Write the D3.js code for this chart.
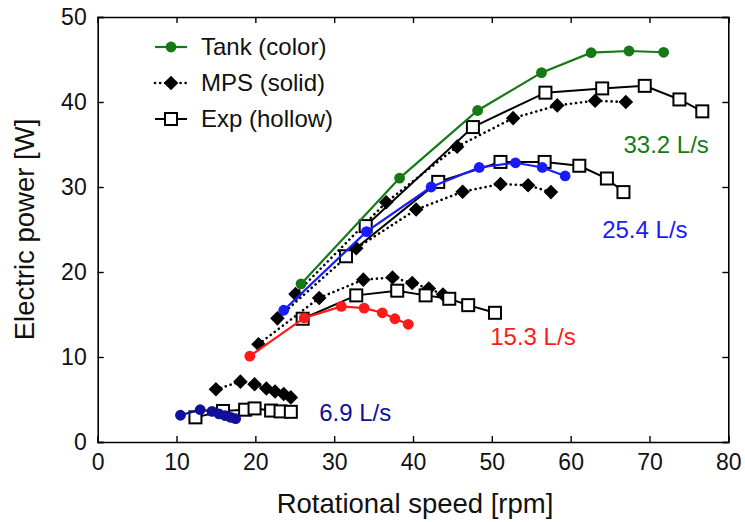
<!DOCTYPE html>
<html><head><meta charset="utf-8">
<script src="https://cdn.jsdelivr.net/npm/d3@7"></script>
<style>html,body{margin:0;padding:0;background:#fff}svg{display:block}text{font-family:"Liberation Sans",Arial,sans-serif}</style>
</head><body><div id="chart"></div>
<script>
// ---- data ----
const flows = ["6.9 L/s", "15.3 L/s", "25.4 L/s", "33.2 L/s"];
const flowColors = ["#10109a", "#ff1a1a", "#1a1aff", "#157a15"];
const xTicks = [0, 10, 20, 30, 40, 50, 60, 70, 80];
const yTicks = [0, 10, 20, 30, 40, 50];
const legendLabels = ["Tank (color)", "MPS (solid)", "Exp (hollow)"];

// Tank (colored circles)
const tankRpm69 = [10.5, 13.0, 14.5, 15.4, 16.2, 16.9, 17.5];
const tankPow69 = [3.15, 3.8, 3.6, 3.3, 3.1, 2.9, 2.75];
const tankRpm153 = [19.3, 26.2, 30.9, 33.8, 36.1, 37.7, 39.4];
const tankPow153 = [10.1, 14.6, 15.95, 15.75, 15.2, 14.5, 13.85];
const tankRpm254 = [23.6, 34.1, 42.3, 48.4, 53.0, 56.4, 59.3];
const tankPow254 = [15.5, 24.75, 30.0, 32.3, 32.85, 32.3, 31.3];
const tankRpm332 = [25.8, 38.3, 48.2, 56.3, 62.6, 67.4, 71.8];
const tankPow332 = [18.6, 31.05, 39.0, 43.45, 45.8, 46.0, 45.85];

// MPS (solid diamonds, dotted)
const mpsRpm69 = [15.0, 18.1, 19.9, 21.4, 22.5, 23.6, 24.5];
const mpsPow69 = [6.2, 7.1, 6.8, 6.3, 5.95, 5.65, 5.25];
const mpsRpm153 = [20.4, 28.1, 33.7, 37.4, 39.9, 42.0, 43.8];
const mpsPow153 = [11.5, 16.95, 19.1, 19.35, 18.7, 18.05, 17.35];
const mpsRpm254 = [22.8, 32.8, 40.4, 46.3, 51.1, 54.6, 57.5];
const mpsPow254 = [14.55, 22.8, 27.35, 29.45, 30.35, 30.2, 29.4];
const mpsRpm332 = [25.1, 36.6, 45.6, 52.7, 58.3, 63.1, 67.0];
const mpsPow332 = [17.4, 28.2, 34.75, 38.1, 39.6, 40.15, 40.0];

// Exp (hollow squares, solid black)
const expRpm69 = [12.4, 15.9, 18.7, 19.9, 22.0, 23.2, 24.5];
const expPow69 = [2.9, 3.65, 3.8, 3.95, 3.7, 3.6, 3.55];
const expRpm153 = [26.0, 32.8, 38.0, 41.6, 44.6, 47.0, 50.4];
const expPow153 = [14.5, 17.25, 17.8, 17.25, 16.85, 16.1, 15.2];
const expRpm254 = [31.5, 43.2, 51.1, 56.7, 61.1, 64.6, 66.7];
const expPow254 = [21.85, 30.6, 32.95, 32.95, 32.5, 31.0, 29.4];
const expRpm332 = [34.0, 47.6, 56.8, 64.0, 69.4, 73.8, 76.7];
const expPow332 = [25.4, 37.05, 41.1, 41.6, 41.9, 40.3, 38.9];

// flow-label anchors (data coords)
const flowLabelRpm = [28.1, 49.8, 64.0, 66.7];
const flowLabelPow = [2.5, 11.4, 24.0, 34.0];

// ---- build ----
const zip = (xs, ys) => xs.map((x, i) => [x, ys[i]]);
const tank = [zip(tankRpm69, tankPow69), zip(tankRpm153, tankPow153), zip(tankRpm254, tankPow254), zip(tankRpm332, tankPow332)];
const mps = [zip(mpsRpm69, mpsPow69), zip(mpsRpm153, mpsPow153), zip(mpsRpm254, mpsPow254), zip(mpsRpm332, mpsPow332)];
const exp = [zip(expRpm69, expPow69), zip(expRpm153, expPow153), zip(expRpm254, expPow254), zip(expRpm332, expPow332)];

const W = 745, H = 522;
const m = {left: 97.7, right: 745 - 728.3, top: 17, bottom: 522 - 442};
const svg = d3.select("#chart").append("svg").attr("width", W).attr("height", H);
const x = d3.scaleLinear().domain([0, 80]).range([m.left, W - m.right]);
const y = d3.scaleLinear().domain([0, 50]).range([H - m.bottom, m.top]);
const line = d3.line().x(d => x(d[0])).y(d => y(d[1]));

// frame + inward ticks
const g = svg.append("g");
const tl = 6;
g.append("g").attr("transform", `translate(0,${y(0)})`)
  .call(d3.axisBottom(x).tickValues(xTicks).tickSize(-tl).tickPadding(12).tickFormat(d3.format("d")));
g.append("g").attr("transform", `translate(0,${y(50)})`)
  .call(d3.axisTop(x).tickValues(xTicks).tickSize(-tl).tickFormat(""));
g.append("g").attr("transform", `translate(${x(0)},0)`)
  .call(d3.axisLeft(y).tickValues(yTicks).tickSize(-tl).tickPadding(11).tickFormat(d3.format("d")));
g.append("g").attr("transform", `translate(${x(80)},0)`)
  .call(d3.axisRight(y).tickValues(yTicks).tickSize(-tl).tickFormat(""));
g.selectAll(".domain").attr("stroke", "#000").attr("stroke-width", 1.6);
g.selectAll(".tick line").attr("stroke", "#000").attr("stroke-width", 1.4);
g.selectAll(".tick text").attr("font-size", 23).attr("fill", "#111")
  .style("font-family", '"Liberation Sans",Arial,sans-serif');

// axis titles
svg.append("text").attr("x", (x(0) + x(80)) / 2 + 2).attr("y", 513).attr("text-anchor", "middle")
  .attr("font-size", 27.5).attr("fill", "#111").text("Rotational speed [rpm]");
svg.append("text").attr("transform", `translate(34,${(y(0) + y(50)) / 2}) rotate(-90)`).attr("text-anchor", "middle")
  .attr("font-size", 27.5).attr("fill", "#111").text("Electric power [W]");

const diamond = (cx, cy, r) => `M${cx},${cy - r}L${cx + r},${cy}L${cx},${cy + r}L${cx - r},${cy}Z`;
const sq = 12;

// MPS
mps.forEach(s => {
  svg.append("path").attr("d", line(s)).attr("fill", "none").attr("stroke", "#000")
    .attr("stroke-width", 2.6).attr("stroke-dasharray", "0.1,5").attr("stroke-linecap", "round");
  svg.append("g").selectAll("path").data(s).join("path")
    .attr("d", d => diamond(x(d[0]), y(d[1]), 7.3)).attr("fill", "#000");
});
// Exp
exp.forEach(s => {
  svg.append("path").attr("d", line(s)).attr("fill", "none").attr("stroke", "#000").attr("stroke-width", 2);
  svg.append("g").selectAll("rect").data(s).join("rect")
    .attr("x", d => x(d[0]) - sq / 2).attr("y", d => y(d[1]) - sq / 2)
    .attr("width", sq).attr("height", sq).attr("fill", "#fff").attr("stroke", "#000").attr("stroke-width", 2);
});
// Tank
tank.forEach((s, i) => {
  svg.append("path").attr("d", line(s)).attr("fill", "none").attr("stroke", flowColors[i]).attr("stroke-width", 2.2);
  svg.append("g").selectAll("circle").data(s).join("circle")
    .attr("cx", d => x(d[0])).attr("cy", d => y(d[1])).attr("r", 5.4).attr("fill", flowColors[i]);
});

// flow labels
flows.forEach((f, i) => {
  svg.append("text").attr("x", x(flowLabelRpm[i])).attr("y", y(flowLabelPow[i]))
    .attr("font-size", 24).attr("fill", flowColors[i]).text(f);
});

// legend
const lx1 = 155, lx2 = 187, lcx = 171, ly = [47, 83, 119], ltx = 201;
const lg = svg.append("g");
// Tank
lg.append("line").attr("x1", lx1).attr("x2", lx2).attr("y1", ly[0]).attr("y2", ly[0]).attr("stroke", flowColors[3]).attr("stroke-width", 2.2);
lg.append("circle").attr("cx", lcx).attr("cy", ly[0]).attr("r", 5.4).attr("fill", flowColors[3]);
// MPS
lg.append("line").attr("x1", lx1).attr("x2", lx2).attr("y1", ly[1]).attr("y2", ly[1]).attr("stroke", "#000")
  .attr("stroke-width", 2.6).attr("stroke-dasharray", "0.1,5").attr("stroke-linecap", "round");
lg.append("path").attr("d", diamond(lcx, ly[1], 7.3)).attr("fill", "#000");
// Exp
lg.append("line").attr("x1", lx1).attr("x2", lx2).attr("y1", ly[2]).attr("y2", ly[2]).attr("stroke", "#000").attr("stroke-width", 2);
lg.append("rect").attr("x", lcx - sq / 2).attr("y", ly[2] - sq / 2).attr("width", sq).attr("height", sq)
  .attr("fill", "#fff").attr("stroke", "#000").attr("stroke-width", 2);
legendLabels.forEach((t, i) => {
  lg.append("text").attr("x", ltx).attr("y", ly[i]).attr("dy", "0.35em").attr("font-size", 24).attr("fill", "#111").text(t);
});
</script></body></html>
